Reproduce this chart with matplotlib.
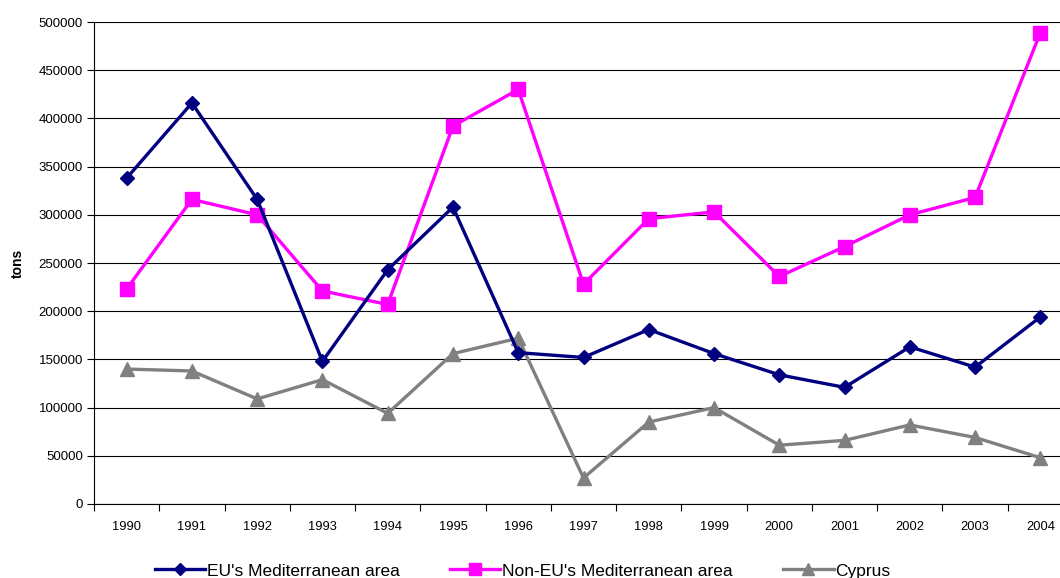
import matplotlib
matplotlib.use("Agg")
import matplotlib.pyplot as plt
from matplotlib.ticker import FixedLocator

plt.rcParams['font.family'] = ['Liberation Sans', 'DejaVu Sans']

years = ["1990", "1991", "1992", "1993", "1994", "1995", "1996", "1997",
         "1998", "1999", "2000", "2001", "2002", "2003", "2004"]
eu_med = [338000, 416000, 316000, 148000, 243000, 308000, 157000, 152000,
          181000, 156000, 134000, 121000, 163000, 142000, 194000]
non_eu_med = [223000, 316000, 300000, 221000, 207000, 392000, 430000, 228000,
              296000, 303000, 236000, 267000, 300000, 318000, 489000]
cyprus = [140000, 138000, 109000, 129000, 94000, 156000, 172000, 27000,
          85000, 100000, 61000, 66000, 82000, 69000, 48000]
series_names = ["EU's Mediterranean area", "Non-EU's Mediterranean area", "Cyprus"]

W, H = 1060, 578
fig = plt.figure(figsize=(W / 100, H / 100), dpi=100)
left, right, top, bottom = 94, 1073, 22, 504
ax = fig.add_axes([left / W, 1 - bottom / H, (right - left) / W, (bottom - top) / H])

x = list(range(len(years)))
ax.plot(x, eu_med, color='#000080', lw=2.4, marker='D', ms=7.5, label=series_names[0], zorder=4)
ax.plot(x, non_eu_med, color='#FF00FF', lw=2.4, marker='s', ms=10, label=series_names[1], zorder=3)
ax.plot(x, cyprus, color='#808080', lw=2.4, marker='^', ms=10, label=series_names[2], zorder=2)

ax.set_xlim(-0.5, len(years) - 0.5)
ax.set_ylim(0, 500000)
ax.set_yticks(range(0, 500001, 50000))
ax.set_yticklabels([str(v) for v in range(0, 500001, 50000)], fontsize=9.5)
ax.yaxis.grid(True, color='black', lw=0.8)
ax.set_axisbelow(True)

ax.set_xticks(x)
ax.set_xticklabels(years, fontsize=9.3)
ax.tick_params(axis='x', which='major', length=0, pad=12)
ax.xaxis.set_minor_locator(FixedLocator([i - 0.5 for i in range(len(years) + 1)]))
ax.tick_params(axis='x', which='minor', length=5, width=0.8, direction='out')
ax.tick_params(axis='y', length=5, width=0.8, direction='out', pad=3)

for s in ['top', 'right']:
    ax.spines[s].set_visible(False)
for s in ['left', 'bottom']:
    ax.spines[s].set_color('black')
    ax.spines[s].set_linewidth(0.8)

ax.set_ylabel('tons', fontsize=10, fontweight='bold', labelpad=10)

fig.legend(loc='lower center', bbox_to_anchor=(0.493, -0.028), ncol=3, frameon=False,
           fontsize=12.5, handlelength=2.9, columnspacing=2.9, handletextpad=0.1,
           markerscale=0.8)

fig.savefig('out.png', dpi=100)
